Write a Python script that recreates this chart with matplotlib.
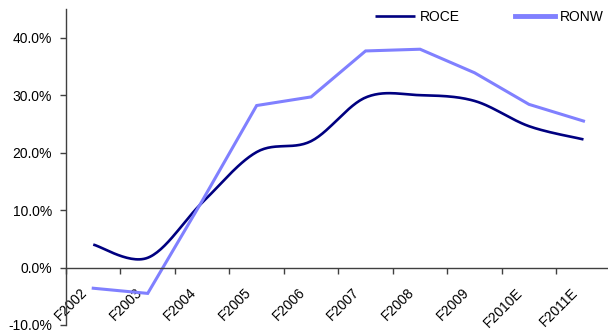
import matplotlib
matplotlib.use("Agg")
import matplotlib.pyplot as plt
import matplotlib.transforms as mtransforms
import numpy as np
from matplotlib.ticker import FuncFormatter, FixedLocator

plt.rcParams['font.family'] = ['Liberation Sans', 'DejaVu Sans']
plt.rcParams['font.size'] = 10

years = ['F2002', 'F2003', 'F2004', 'F2005', 'F2006', 'F2007',
         'F2008', 'F2009', 'F2010E', 'F2011E']
roce = [4.0, 1.7, 11.3, 20.1, 22.0, 29.6, 30.0, 29.0, 24.6, 22.3]
ronw = [-3.6, -4.5, 11.6, 28.2, 29.7, 37.7, 38.0, 33.9, 28.4, 25.5]


def smooth(x, y, steps=30):
    # Catmull-Rom curve through every point, ends padded by repeating them
    x = np.asarray(x, float)
    y = np.asarray(y, float)
    px = np.concatenate([[x[0]], x, [x[-1]]])
    py = np.concatenate([[y[0]], y, [y[-1]]])
    xs, ys = [], []
    t = np.linspace(0, 1, steps)
    for i in range(1, len(px) - 2):
        for p, out in ((px, xs), (py, ys)):
            p0, p1, p2, p3 = p[i - 1], p[i], p[i + 1], p[i + 2]
            c1 = p1 + (p2 - p0) / 6
            c2 = p2 - (p3 - p1) / 6
            out.extend((1 - t) ** 3 * p1 + 3 * (1 - t) ** 2 * t * c1
                       + 3 * (1 - t) * t ** 2 * c2 + t ** 3 * p2)
    return np.array(xs), np.array(ys)


fig = plt.figure(figsize=(6.08, 3.33), dpi=100)
ax = fig.add_axes([66 / 608, 8 / 333, 1 - 66 / 608, 316 / 333])

x = np.arange(len(years))
sx, sy = smooth(x, roce)
ax.plot(sx, sy, color='#000080', lw=1.9, label='ROCE', solid_capstyle='butt')
ax.plot(x, ronw, color='#8080FF', lw=2.2, label='RONW', solid_joinstyle='miter')

ax.set_xlim(-0.5, 9.45)
ax.set_ylim(-10, 45)

ax.set_yticks(np.arange(-10, 41, 10))
ax.yaxis.set_major_formatter(FuncFormatter(lambda v, p: f'{v:.1f}%'))

for s in ('top', 'right'):
    ax.spines[s].set_visible(False)
ax.spines['bottom'].set_position(('data', 0))
for s in ('left', 'bottom'):
    ax.spines[s].set_color('#404040')
    ax.spines[s].set_linewidth(1.0)

# category labels at the centres, tick marks on the boundaries
ax.set_xticks(x)
ax.set_xticklabels(years)
ax.xaxis.set_minor_locator(FixedLocator(np.arange(-0.5, 9.6, 1)))
ax.tick_params(axis='x', which='major', length=0, pad=13)
ax.tick_params(axis='x', which='minor', length=4, direction='out',
               color='#404040', width=1)
ax.tick_params(axis='y', length=4, direction='out', color='#404040',
               width=1, pad=6)
offset = mtransforms.ScaledTranslation(-13 / 100, 0, fig.dpi_scale_trans)
for lab in ax.get_xticklabels():
    lab.set_rotation(45)
    lab.set_rotation_mode('anchor')
    lab.set_ha('right')
    lab.set_va('top')
    lab.set_transform(lab.get_transform() + offset)

leg = fig.legend(loc='center left', bbox_to_anchor=(375 / 608, 1 - 17 / 333),
                 ncol=2, frameon=False, handlelength=2.9, handletextpad=0.3,
                 columnspacing=4.0, borderpad=0, borderaxespad=0)
leg.get_lines()[1].set_linewidth(3.5)

fig.savefig('out.png', dpi=100)
